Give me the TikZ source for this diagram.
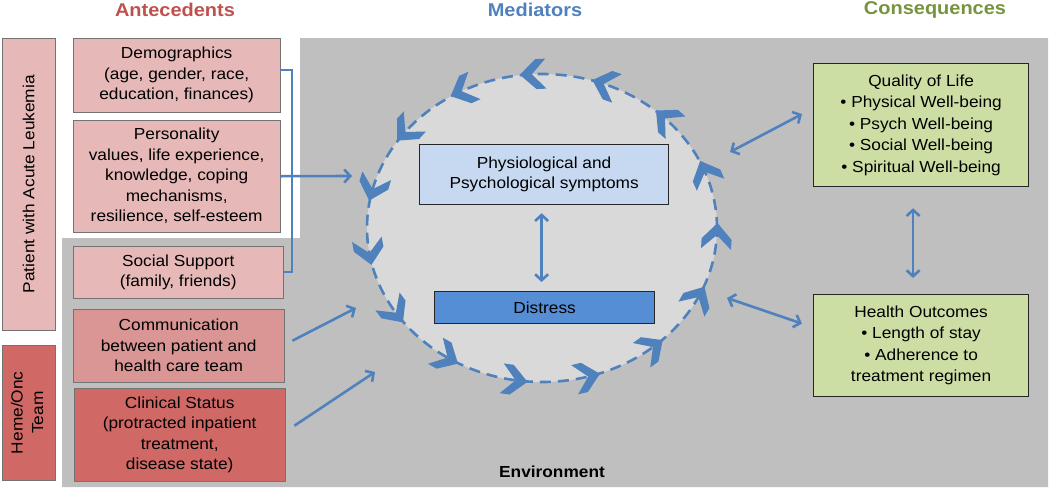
\documentclass[tikz,border=0pt]{standalone}
\usepackage{fontspec}
\setmainfont{Liberation Sans}[FakeStretch=1.08]
\usepackage{tikz}
\usetikzlibrary{positioning,shapes.geometric,arrows.meta}
\definecolor{rose}{RGB}{230,184,183}
\definecolor{roseM}{RGB}{217,150,148}
\definecolor{roseD}{RGB}{208,104,102}
\definecolor{brick}{RGB}{192,80,77}
\definecolor{steel}{RGB}{79,129,189}
\definecolor{olive}{RGB}{119,147,60}
\definecolor{sage}{RGB}{205,222,165}
\definecolor{envgray}{RGB}{191,191,191}
\definecolor{loopgray}{RGB}{217,217,217}
\definecolor{skyL}{RGB}{198,217,241}
\definecolor{skyD}{RGB}{85,142,213}

\begin{document}
\begin{tikzpicture}[x=1pt,y=-1pt,font=\fontsize{16}{20.5}\selectfont,
 >={Straight Barb[length=6pt,width=13pt]},
 B/.style={draw=black!55,thin,align=center,inner sep=0pt,anchor=north west},
 M/.style={draw=black!85,line width=1.2pt,align=center,inner sep=0pt,anchor=north west},
 T/.style={font=\fontsize{18.5}{22}\selectfont\bfseries},
 A/.style={draw=steel,line width=2.6pt,->},
 D/.style={A,<->}]
 \useasboundingbox (0,0) rectangle (1050,488);
 \fill[envgray] (62,238) -- (300,238) -- (300,38) -- (1048,38) -- (1048,487) -- (62,487) -- cycle;
 \node[T,text=brick](ant) at (175,10){Antecedents};
 \node[T,text=steel](med) at (535,10){Mediators};
 \node[T,text=olive](con) at (935,10){Consequences};
 \node[B,fill=rose,minimum width=53pt,minimum height=292pt](pat) at (2,38){\rotatebox{90}{Patient with Acute Leukemia}};
 \node[B,fill=roseD,minimum width=53pt,minimum height=135pt](heme) at (2,345){\rotatebox{90}{\begin{tabular}{@{}c@{}}Heme/Onc\\Team\end{tabular}}};
 \node[B,fill=rose,minimum width=207pt,minimum height=74pt](demo) at (73,38){Demographics\\(age, gender, race,\\education, finances)};
 \node[B,fill=rose,minimum width=207pt,minimum height=112pt](pers) at (73,120){Personality\\values, life experience,\\knowledge, coping\\mechanisms,\\resilience, self-esteem};
 \node[B,fill=rose,minimum width=210pt,minimum height=52pt](soc) at (73,246){Social Support\\(family, friends)};
 \node[B,fill=roseM,minimum width=211pt,minimum height=73pt](comm) at (73,309){Communication\\between patient and\\health care team};
 \node[B,fill=roseD,minimum width=211pt,minimum height=93pt](clin) at (74,388){Clinical Status\\(protracted inpatient\\treatment,\\disease state)};
 \coordinate(brk) at (292,0);
 \coordinate(in1) at (352,176);
 \coordinate(in2) at (356,308);
 \coordinate(in3) at (375,372);
 \draw[steel,line width=2.4pt]([yshift=5pt]demo.east) -| (brk |- soc.east) -- (soc.east);
 \draw[A](pers.east) -- (in1);
 \draw[A]([shift={(8pt,5pt)}]comm.east) -- (in2);
 \draw[A]([shift={(9pt,9pt)}]clin.east) -- (in3);
 \node[ellipse,fill=loopgray,draw=steel,line width=2.6pt,dash pattern=on 11pt off 7pt,minimum width=350pt,minimum height=308pt,inner sep=0pt](loop) at (542,228){};
 \foreach \k in {0,...,14}{
  \pgfmathsetmacro\t{93-24*\k}
  \pgfmathsetmacro\r{atan2(154*cos(\t),-175*sin(\t))}
  \fill[steel,shift={({542+175*cos(\t)},{228-154*sin(\t)})},rotate=\r](13,0) -- (-3,15) -- (-13,15) -- (1,0) -- (-13,-15) -- (-3,-15) -- cycle;
 }
 \node[M,fill=skyL,minimum width=249pt,minimum height=60pt](sym) at (419,144){Physiological and\\Psychological symptoms};
 \node[M,fill=skyD,minimum width=220pt,minimum height=32pt](dis) at (434,291){Distress};
 \draw[D,shorten <=8pt,shorten >=9pt]([xshift=-2.5pt]sym.south) -- ([xshift=-3pt]dis.north);
 \node[M,fill=sage,minimum width=215pt,minimum height=123pt,font=\fontsize{16}{21.5}\selectfont](qol) at (813,63){Quality of Life\\• Physical Well-being\\• Psych Well-being\\• Social Well-being\\• Spiritual Well-being};
 \node[M,fill=sage,minimum width=215pt,minimum height=102pt,font=\fontsize{16}{21.5}\selectfont](hlth) at (813,294){Health Outcomes\\• Length of stay\\• Adherence to\\treatment regimen};
 \draw[D,shorten <=21pt,shorten >=16pt]([xshift=-8pt]qol.south) -- ([xshift=-8pt]hlth.north);
 \coordinate(o1) at (730,152);
 \coordinate(o2) at (727,298);
 \draw[D](o1) -- ([shift={(-11pt,11pt)}]qol.west);
 \draw[D](o2) -- ([shift={(-11pt,22pt)}]hlth.west);
 \node[font=\fontsize{16}{18}\selectfont\bfseries](env) at (552,472){Environment};
\end{tikzpicture}
\end{document}
